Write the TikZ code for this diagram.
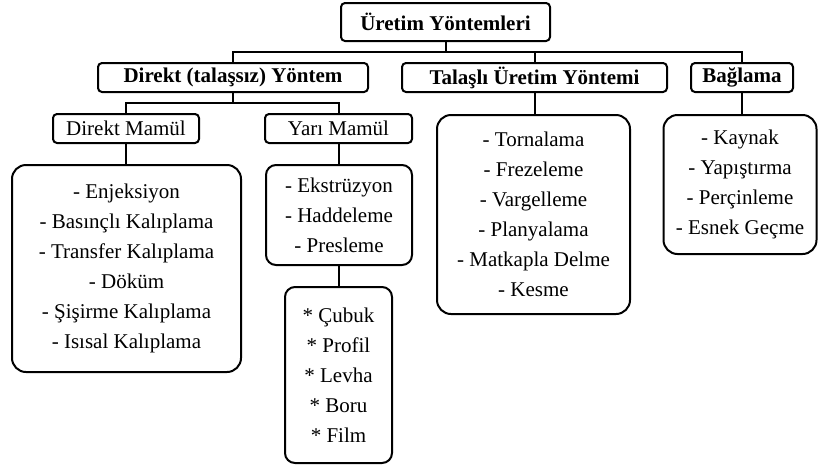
\documentclass[tikz,border=0pt]{standalone}
\usepackage{fontspec}
\setmainfont{Liberation Serif}
\begin{document}
\begin{tikzpicture}[x=1pt,y=-1pt,
  box/.style={draw,line width=2pt,rounded corners=4pt,inner sep=0pt,align=center,
    font=\fontsize{21}{30}\selectfont},
  hbox/.style={box,font=\fontsize{21}{30}\selectfont\bfseries},
  bigbox/.style={box,rounded corners=14pt},
  conn/.style={line width=2pt}]
\useasboundingbox (0,0) rectangle (818,464);
\node[hbox,minimum width=209pt,minimum height=38pt] (top) at (445.5,22) {Üretim Yöntemleri};
\node[hbox,minimum width=270pt,minimum height=29pt] (dir) at (233,77.5) {Direkt (talaşsız) Yöntem};
\node[hbox,minimum width=265pt,minimum height=29pt] (tal) at (534.5,77.5) {Talaşlı Üretim Yöntemi};
\node[hbox,minimum width=102pt,minimum height=29pt] (bag) at (742,77.5) {Bağlama};
\node[box,minimum width=146pt,minimum height=29pt] (dm) at (126,128.5) {Direkt Mamül};
\node[box,minimum width=147pt,minimum height=29pt] (ym) at (338.5,128.5) {Yarı Mamül};
\node[bigbox,minimum width=229pt,minimum height=207pt] (dml) at (126.5,268.5) {- Enjeksiyon\\- Basınçlı Kalıplama\\- Transfer Kalıplama\\- Döküm\\- Şişirme Kalıplama\\- Isısal Kalıplama};
\node[box,rounded corners=10pt,minimum width=146pt,minimum height=100pt] (yml) at (339,215) {- Ekstrüzyon\\- Haddeleme\\- Presleme};
\node[box,rounded corners=10pt,minimum width=107pt,minimum height=176pt] (star) at (338.5,375) {* Çubuk\\* Profil\\* Levha\\* Boru\\* Film};
\node[bigbox,minimum width=193pt,minimum height=199pt] (tall) at (533.5,214.5) {- Tornalama\\- Frezeleme\\- Vargelleme\\- Planyalama\\- Matkapla Delme\\- Kesme};
\node[bigbox,minimum width=153pt,minimum height=139pt] (bagl) at (740,184.5) {- Kaynak\\- Yapıştırma\\- Perçinleme\\- Esnek Geçme};
\coordinate (bus1) at (445.5,52);
\coordinate (bus2) at (233,103);
\draw[conn] (top.south) -- (bus1);
\draw[conn] (dir.north) |- (bus1) -| (bag.north);
\draw[conn] (tal.north) -- (tal.north |- bus1);
\draw[conn] (dir.south) -- (bus2);
\draw[conn] (dm.north) |- (bus2) -| (ym.north);
\draw[conn] (dm.south) -- (dml.north -| dm.south);
\draw[conn] (ym.south) -- (yml.north -| ym.south);
\draw[conn] (yml.south -| star.north) -- (star.north);
\draw[conn] (tal.south) -- (tall.north -| tal.south);
\draw[conn] (bag.south) -- (bagl.north -| bag.south);
\end{tikzpicture}
\end{document}
